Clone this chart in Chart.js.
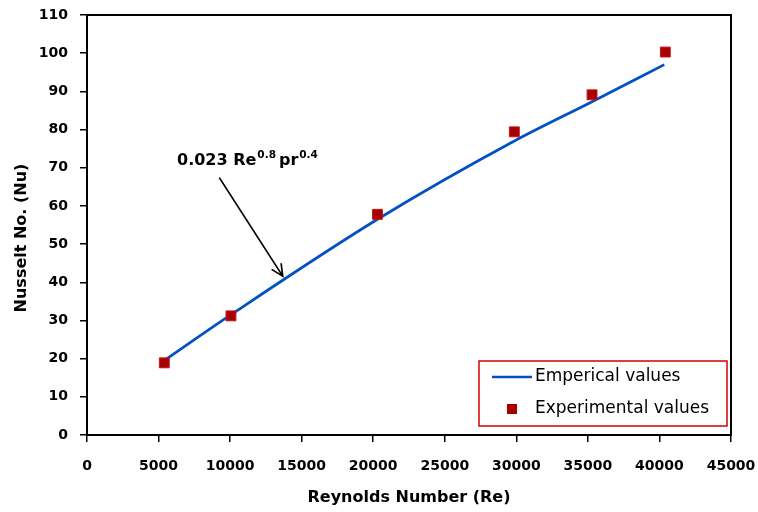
<!DOCTYPE html>
<html><head><meta charset="utf-8">
<script src="https://cdn.jsdelivr.net/npm/chart.js@4"></script>
<style>html,body{margin:0;padding:0;background:#fff}#wrap{width:758px;height:512px}</style>
</head><body><div id="wrap"><canvas id="c" width="758" height="512"></canvas></div>
<script>
// ---- data ----
const reynoldsExperimental = [5400, 10060, 20300, 29860, 35290, 40410];
const nusseltExperimental  = [18.9, 31.2, 57.8, 79.4, 89.1, 100.3];
const reynoldsEmpirical    = [5400, 10060, 20300, 29860, 35290, 40340];
const nusseltEmpirical     = [19.5, 31.5, 56.5, 77.0, 87.3, 97.0];
const xTickValues = [0, 5000, 10000, 15000, 20000, 25000, 30000, 35000, 40000, 45000];
const yTickValues = [0, 10, 20, 30, 40, 50, 60, 70, 80, 90, 100, 110];
const seriesLabels = ['Emperical values', 'Experimental values'];
const axisTitles = ['Reynolds Number (Re)', 'Nusselt No. (Nu)'];
const annotationParts = ['0.023 Re', '0.8', 'pr', '0.4'];

// ---- annotation placement (data coordinates) ----
const annotationPlace = { textRe: 6290, textNu: 70.7, tailRe: 9245, tailNu: 67.4, tipRe: 13675, tipNu: 41.6 };

const BLUE = '#0052c4';
const RED = '#a80000';
const FONT = 'DejaVu Sans';

const extras = {
  id: 'extras',
  afterDraw(chart) {
    const {ctx, chartArea: a, scales: {x, y}} = chart;
    ctx.save();
    // plot frame
    ctx.strokeStyle = '#000';
    ctx.lineWidth = 2;
    ctx.strokeRect(a.left, a.top, a.right - a.left, a.bottom - a.top);

    // y axis title
    ctx.save();
    ctx.translate(22, 238);
    ctx.rotate(-Math.PI / 2);
    ctx.font = 'bold 16px "' + FONT + '"';
    ctx.fillStyle = '#000';
    ctx.textAlign = 'center';
    ctx.textBaseline = 'middle';
    ctx.fillText(axisTitles[1], 0, 0);
    ctx.restore();

    // annotation text
    const tx = x.getPixelForValue(annotationPlace.textRe);
    const ty = y.getPixelForValue(annotationPlace.textNu);
    ctx.fillStyle = '#000';
    ctx.textAlign = 'left';
    ctx.textBaseline = 'alphabetic';
    let cx = tx;
    ctx.font = 'bold 16px "' + FONT + '"';
    ctx.fillText(annotationParts[0], cx, ty);
    cx += ctx.measureText(annotationParts[0]).width + 1;
    ctx.font = 'bold 10.5px "' + FONT + '"';
    ctx.fillText(annotationParts[1], cx, ty - 7);
    cx += ctx.measureText(annotationParts[1]).width + 3;
    ctx.font = 'bold 16px "' + FONT + '"';
    ctx.fillText(annotationParts[2], cx, ty);
    cx += ctx.measureText(annotationParts[2]).width + 1;
    ctx.font = 'bold 10.5px "' + FONT + '"';
    ctx.fillText(annotationParts[3], cx, ty - 7);

    // arrow
    const x1 = x.getPixelForValue(annotationPlace.tailRe), y1 = y.getPixelForValue(annotationPlace.tailNu);
    const x2 = x.getPixelForValue(annotationPlace.tipRe), y2 = y.getPixelForValue(annotationPlace.tipNu);
    ctx.strokeStyle = '#000';
    ctx.lineWidth = 1.7;
    ctx.beginPath();
    ctx.moveTo(x1, y1); ctx.lineTo(x2, y2);
    const ang = Math.atan2(y2 - y1, x2 - x1);
    const hl = 13, ha = 0.45;
    ctx.moveTo(x2 - hl * Math.cos(ang - ha), y2 - hl * Math.sin(ang - ha));
    ctx.lineTo(x2, y2);
    ctx.lineTo(x2 - hl * Math.cos(ang + ha), y2 - hl * Math.sin(ang + ha));
    ctx.stroke();

    // legend box
    const lx = a.right - 252, ly = a.bottom - 74, lw = 248, lh = 65;
    ctx.fillStyle = '#fff';
    ctx.fillRect(lx, ly, lw, lh);
    ctx.strokeStyle = '#d40000';
    ctx.lineWidth = 1.5;
    ctx.strokeRect(lx, ly, lw, lh);
    // row 1: line
    ctx.strokeStyle = BLUE;
    ctx.lineWidth = 2.5;
    ctx.beginPath();
    ctx.moveTo(lx + 13, ly + 16); ctx.lineTo(lx + 53, ly + 16);
    ctx.stroke();
    // row 2: square
    ctx.fillStyle = RED;
    ctx.fillRect(lx + 28, ly + 43, 10, 10);
    ctx.fillStyle = '#000';
    ctx.font = '17px "' + FONT + '"';
    ctx.textBaseline = 'middle';
    ctx.fillText(seriesLabels[0], lx + 56, ly + 16);
    ctx.fillText(seriesLabels[1], lx + 56, ly + 48);
    ctx.restore();
  }
};

new Chart(document.getElementById('c').getContext('2d'), {
  type: 'scatter',
  data: {
    datasets: [
      {
        label: seriesLabels[1],
        data: reynoldsExperimental.map((r, i) => ({x: r, y: nusseltExperimental[i]})),
        showLine: false,
        pointStyle: 'rect',
        pointRadius: 7,
        backgroundColor: RED,
        borderColor: '#c01818',
        borderWidth: 1
      },
      {
        label: seriesLabels[0],
        data: reynoldsEmpirical.map((r, i) => ({x: r, y: nusseltEmpirical[i]})),
        showLine: true,
        borderColor: BLUE,
        borderWidth: 2.7,
        pointRadius: 0,
        cubicInterpolationMode: 'monotone',
        fill: false
      }
    ]
  },
  options: {
    responsive: false,
    animation: false,
    devicePixelRatio: 1,
    layout: { padding: { left: 0, right: 27, top: 15, bottom: 0 } },
    plugins: { legend: { display: false }, tooltip: { enabled: false } },
    scales: {
      x: {
        type: 'linear', min: 0, max: 45000,
        afterBuildTicks: s => { s.ticks = xTickValues.map(v => ({value: v})); },
        ticks: { color: '#000', autoSkip: false, maxRotation: 0, padding: 16,
                 font: { family: FONT, size: 14, weight: 'bold' }, callback: v => String(v) },
        grid: { drawOnChartArea: false, drawTicks: true, tickLength: 7, color: '#000', lineWidth: 1.5 },
        border: { display: true, color: '#000', width: 2 },
        title: { display: true, text: axisTitles[0], color: '#000', padding: { top: 4, bottom: 5 },
                 font: { family: FONT, size: 16, weight: 'bold' } },
        afterFit: s => { s.height = 77; s.paddingLeft = 0; s.paddingRight = 0; }
      },
      y: {
        type: 'linear', min: 0, max: 110,
        afterBuildTicks: s => { s.ticks = yTickValues.map(v => ({value: v})); },
        ticks: { color: '#000', padding: 12,
                 font: { family: FONT, size: 14, weight: 'bold' }, callback: v => String(v) },
        grid: { drawOnChartArea: false, drawTicks: true, tickLength: 7, color: '#000', lineWidth: 1.5 },
        border: { display: true, color: '#000', width: 2 },
        afterFit: s => { s.width = 87; s.paddingTop = 0; s.paddingBottom = 0; }
      }
    }
  },
  plugins: [extras]
});
</script>
</body></html>
